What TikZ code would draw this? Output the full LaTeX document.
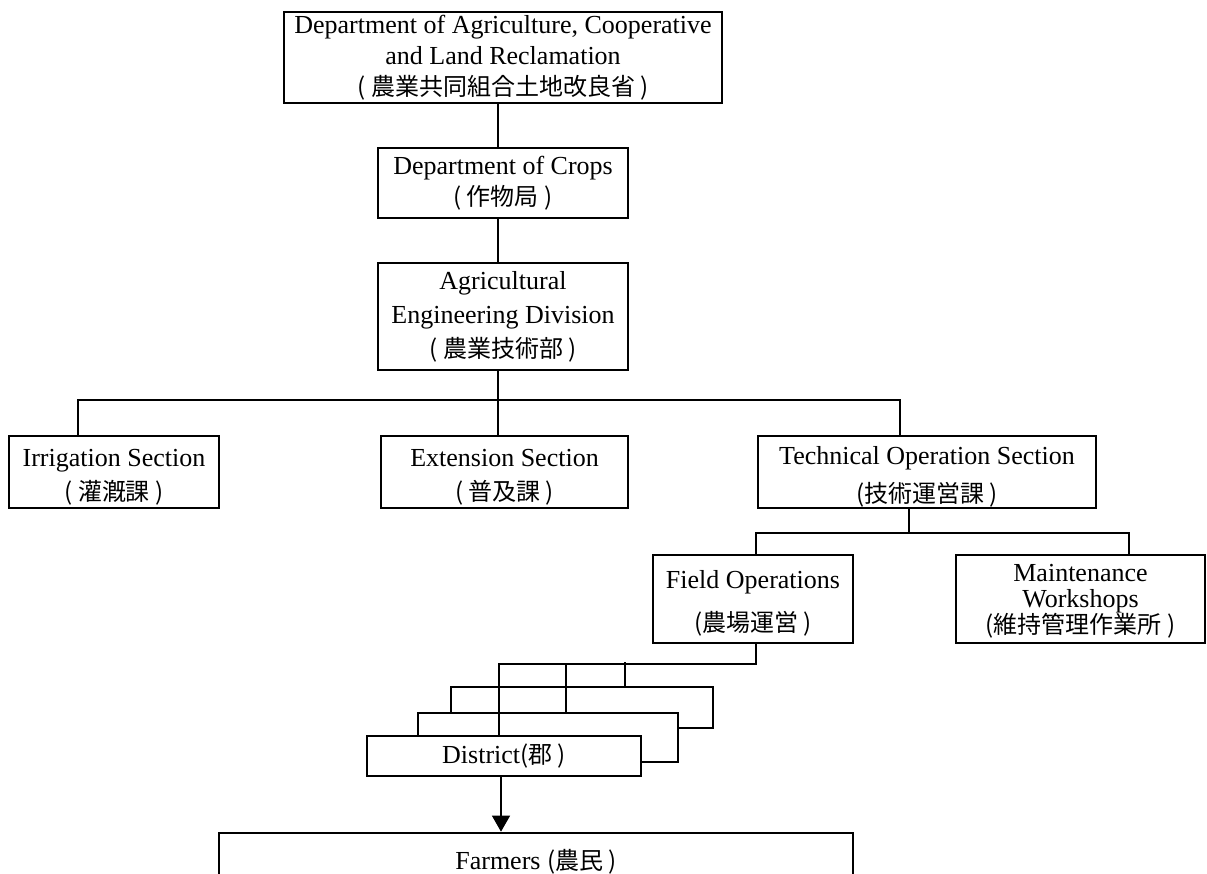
\documentclass[tikz,border=0pt]{standalone}
\usepackage{fontspec}
\setmainfont{Liberation Serif}
\newfontfamily\cjk{Noto Sans CJK JP}
\usetikzlibrary{arrows.meta}

\newcommand{\jp}[1]{{\cjk\fontsize{24}{30}\selectfont #1}}

\tikzset{
	box/.style = {draw, fill = white, line width = 1.7pt, align = center, inner sep = 0pt, font = \fontsize{26}{31}\selectfont},
	heavy/.style = {box, line width = 2.7pt},
	link/.style = {line width = 1.3pt},
}

\begin{document}
\begin{tikzpicture}[x=1pt, y=-1pt]
	\useasboundingbox (0, 0) rectangle (1207, 873);

		\node[box, minimum width = 438pt, minimum height = 91pt] (ministry) at (503, 57.5) {Department of Agriculture, Cooperative\\and Land Reclamation\\\jp{( 農業共同組合土地改良省 )}};
		\node[heavy, minimum width = 250pt, minimum height = 70pt] (crops) at (503, 183) {Department of Crops\\\jp{( 作物局 )}};
		\node[heavy, minimum width = 250pt, minimum height = 107pt] (aed) at (503, 316.5) {Agricultural\\[3pt]Engineering Division\\[3pt]\jp{( 農業技術部 )}};

		\node[box, minimum width = 210pt, minimum height = 72pt] (irr) at (114, 472) {\rule{0pt}{27pt}Irrigation Section\\[3pt]\jp{( 灌漑課 )}};
		\node[box, minimum width = 247pt, minimum height = 72pt] (ext) at (504.5, 472) {\rule{0pt}{27pt}Extension Section\\[3pt]\jp{( 普及課 )}};
		\node[box, minimum width = 338pt, minimum height = 72pt] (tech) at (927, 472) {\rule{0pt}{27pt}Technical Operation Section\\[7pt]\jp{(技術運営課 )}};

		\node[heavy, minimum width = 200pt, minimum height = 88pt] (field) at (753, 599) {\rule{0pt}{27pt}Field Operations\\[12pt]\jp{(農場運営 )}};
		\node[heavy, minimum width = 249pt, minimum height = 88pt, font = \fontsize{26}{26}\selectfont] (maint) at (1080.5, 599) {\rule{0pt}{22pt}Maintenance\\Workshops\\\jp{(維持管理作業所 )}};

		\node[box, minimum width = 262pt, minimum height = 41pt] (dist3) at (582, 707.5) {};
		\node[box, minimum width = 260pt, minimum height = 49pt] (dist2) at (548, 737.5) {};
		\node[box, minimum width = 274pt, minimum height = 40pt] (dist) at (504, 756) {District\jp{(郡 )}};

		\node[heavy, minimum width = 634pt, minimum height = 58pt] (farm) at (536, 862) {Farmers \jp{(農民 )}};

		% junctions
		\coordinate (spine) at (498, 0);
		\coordinate (busL) at (78, 400);
		\coordinate (busR) at (900, 400);
		\coordinate (techdrop) at (909, 533);
		\coordinate (opsL) at (756, 533);
		\coordinate (opsR) at (1129, 533);
		\coordinate (hubR) at (756, 664);
		\coordinate (hub) at (499, 664);
		\coordinate (tapB) at (566, 664);
		\coordinate (tapC) at (625, 662);
		\coordinate (drop) at (501, 0);

		\draw[link] (ministry.south -| spine) -- (crops.north -| spine);
		\draw[link] (crops.south -| spine) -- (aed.north -| spine);
		\draw[link] (aed.south -| spine) -- (ext.north -| spine);
		\draw[link] (irr.north -| busL) -- (busL) -- (busR) -- (tech.north -| busR);

		\draw[link] (tech.south -| techdrop) -- (techdrop);
		\draw[link] (field.north -| opsL) -- (opsL) -- (opsR) -- (maint.north -| opsR);

		\draw[link] (field.south -| hubR) -- (hubR) -- (hub) -- (dist.north -| hub);
		\draw[link] (tapB) -- (dist2.north -| tapB);
		\draw[link] (tapC) -- (dist3.north -| tapC);

		\draw[link, -{Triangle[width = 18pt, length = 16pt]}] (dist.south -| drop) -- (farm.north -| drop);

	\end{tikzpicture}
\end{document}
